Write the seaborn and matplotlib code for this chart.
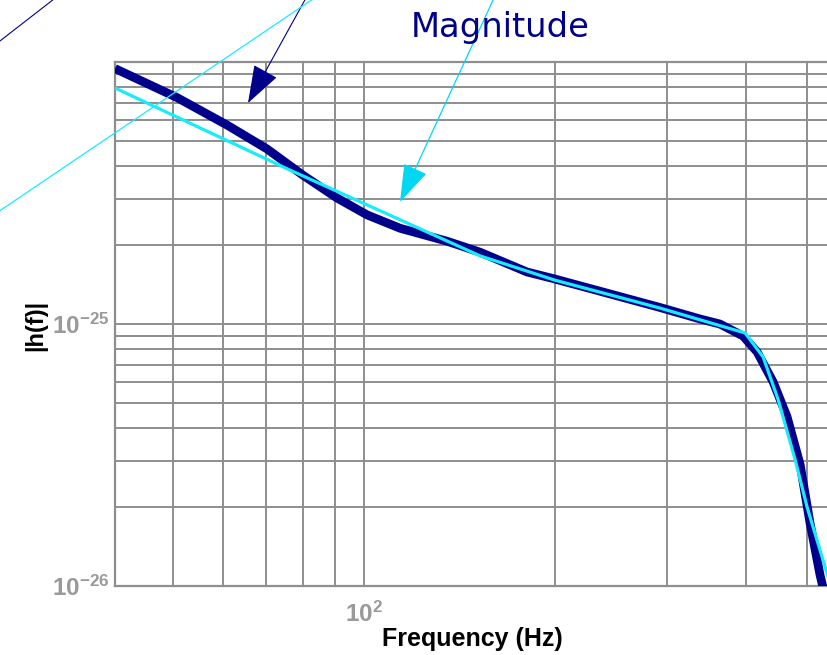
import matplotlib
matplotlib.use("Agg")
import matplotlib.pyplot as plt
import seaborn as sns
import pandas as pd
from matplotlib.lines import Line2D

# ---- data ----
navy_freq = [40.5, 50.7, 60.8, 70.3, 80.1, 90.6, 101.1, 114.0, 135.2, 152.4,
             180.7, 200.0, 293.0, 338.8, 364.0, 396.0, 416.8, 441.7, 464.7,
             487.3, 505.0, 523.8, 535.0]
navy_h = [9.44e-25, 7.32e-25, 5.75e-25, 4.66e-25, 3.70e-25, 3.03e-25, 2.61e-25,
          2.32e-25, 2.07e-25, 1.88e-25, 1.58e-25, 1.485e-25, 1.156e-25,
          1.045e-25, 1.0e-25, 9.0e-26, 7.82e-26, 6.01e-26, 4.42e-26, 2.90e-26,
          1.74e-26, 1.10e-26, 8.85e-27]

cyan_freq = [40.5, 76.4, 101.1, 152.4, 200.0, 293.0, 399.0, 426.0, 450.0,
             478.5, 499.7, 533.5, 553.0]
cyan_h = [7.96e-25, 3.87e-25, 2.85e-25, 1.82e-25, 1.47e-25, 1.15e-25, 9.24e-26,
          7.48e-26, 5.13e-26, 3.03e-26, 2.0e-26, 1.18e-26, 8.85e-27]

x_tick_vals = [100]
x_tick_labels = [r"$10^{2}$"]
y_tick_vals = [1e-26, 1e-25]
y_tick_labels = [r"$10^{-26}$", r"$10^{-25}$"]
x_range = [40.5, 543.0]
y_range = [1e-26, 1e-24]

title_text = "Magnitude"
x_label = "Frequency (Hz)"
y_label = "|h(f)|"

NAVY = "#00008b"
CYAN = "#18ecfb"
CYAN_ARROW = "#00d8f2"
GRID = "#8e8e8e"
TICKC = "#9a9a9a"

sns.set_theme(style="white")
plt.rcParams["font.family"] = ["Liberation Sans", "DejaVu Sans"]
plt.rcParams["mathtext.fontset"] = "custom"
plt.rcParams["mathtext.rm"] = "Liberation Sans:bold"
plt.rcParams["mathtext.it"] = "Liberation Sans:bold"
plt.rcParams["mathtext.bf"] = "Liberation Sans:bold"
plt.rcParams["mathtext.default"] = "rm"

W, H = 828, 655
fig = plt.figure(figsize=(W / 100, H / 100), dpi=100)
ax = fig.add_axes([115 / W, (H - 586) / H, (830 - 115) / W, 524 / H])
ax.set_xscale("log")
ax.set_yscale("log")

df_navy = pd.DataFrame({"f": navy_freq, "h": navy_h})
df_cyan = pd.DataFrame({"f": cyan_freq, "h": cyan_h})
sns.lineplot(data=df_navy, x="f", y="h", ax=ax, color=NAVY, lw=6.3,
             sort=False, estimator=None, solid_capstyle="butt", zorder=3)
sns.lineplot(data=df_cyan, x="f", y="h", ax=ax, color=CYAN, lw=2.3,
             sort=False, estimator=None, zorder=4)

ax.set_xlim(*x_range)
ax.set_ylim(*y_range)
ax.set_xticks(x_tick_vals)
ax.set_xticklabels(x_tick_labels)
ax.set_yticks(y_tick_vals)
ax.set_yticklabels(y_tick_labels)
ax.tick_params(which="both", length=0)
ax.tick_params(axis="x", pad=11, labelsize=17.5, labelcolor=TICKC)
ax.tick_params(axis="y", pad=4, labelsize=17.5, labelcolor=TICKC)
ax.grid(True, which="both", color=GRID, lw=1.4)
for side in ["left", "top", "bottom"]:
    ax.spines[side].set_color(GRID)
    ax.spines[side].set_linewidth(1.6)
ax.spines["right"].set_visible(False)

ax.set_xlabel(x_label, fontsize=18, fontweight="bold", color="black")
ax.set_ylabel(y_label, fontsize=17, fontweight="bold", color="black")
ax.xaxis.set_label_coords((472 - 115) / (830 - 115), -(627 - 586) / 524)
ax.yaxis.set_label_coords(-(115 - 47) / (830 - 115), (586 - 325) / 524)

fig.text(500 / W, (H - 37.3) / H, title_text, color=NAVY, fontsize=24.3,
         family="DejaVu Sans", ha="center", va="baseline")

# thin annotation lines entering from outside the frame
fig.add_artist(Line2D([-2 / W, 54 / W], [(H - 42.5) / H, (H + 1) / H],
                      transform=fig.transFigure, color=NAVY, lw=0.8))
fig.add_artist(Line2D([-2 / W, 313 / W], [(H - 212) / H, (H + 1) / H],
                      transform=fig.transFigure, color=CYAN, lw=0.9))

# arrows
ax.annotate("", xy=(248, H - 103), xytext=(306, H + 2),
            xycoords="figure pixels", textcoords="figure pixels",
            arrowprops=dict(arrowstyle="-|>,head_length=2.43,head_width=0.85",
                            mutation_scale=10, color=NAVY, lw=0.8,
                            shrinkA=0, shrinkB=0),
            annotation_clip=False)
ax.annotate("", xy=(400, H - 202), xytext=(494, H + 2),
            xycoords="figure pixels", textcoords="figure pixels",
            arrowprops=dict(arrowstyle="-|>,head_length=2.43,head_width=0.80",
                            mutation_scale=10, color=CYAN_ARROW, lw=0.9,
                            shrinkA=0, shrinkB=0),
            annotation_clip=False)

fig.savefig("out.png", dpi=100)
